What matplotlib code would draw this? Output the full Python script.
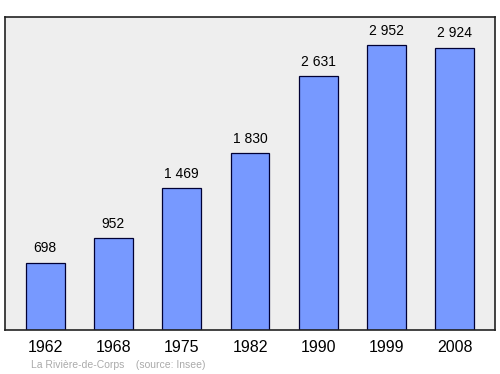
import matplotlib
matplotlib.use("Agg")
import matplotlib.pyplot as plt

# Data
years = ["1962", "1968", "1975", "1982", "1990", "1999", "2008"]
population = [698, 952, 1469, 1830, 2631, 2952, 2924]
value_labels = ["698", "952", "1 469", "1 830", "2 631", "2 952", "2 924"]

plt.rcParams["font.family"] = ["Liberation Sans", "DejaVu Sans"]

fig = plt.figure(figsize=(5.0, 3.74), dpi=100)
ax = fig.add_axes([5 / 500, 1 - 330 / 374, 490 / 500, 313 / 374])
ax.set_facecolor("#eeeeee")

x = range(len(years))
ax.bar(x, population, width=0.57, color="#7799ff", edgecolor="#000033", linewidth=0.9)

for i, (v, lab) in enumerate(zip(population, value_labels)):
    ax.annotate(lab, (i, v), xytext=(0, 5.5), textcoords="offset points",
                ha="center", va="bottom", fontsize=10, color="black")

ax.set_xlim(-0.586, len(years) - 1 + 0.586)
ax.set_ylim(0, 3245)
ax.set_xticks(list(x))
ax.set_xticklabels(years, fontsize=11.5)
ax.tick_params(axis="x", length=0, pad=7)
ax.set_yticks([])
for s in ax.spines.values():
    s.set_linewidth(1.2)
    s.set_color("#222222")

fig.text(31 / 500, 1 - 365 / 374, "La Rivière-de-Corps    (source: Insee)",
         fontsize=7.5, color="#aaaaaa", va="center", ha="left")

fig.savefig("out.png", dpi=100)
